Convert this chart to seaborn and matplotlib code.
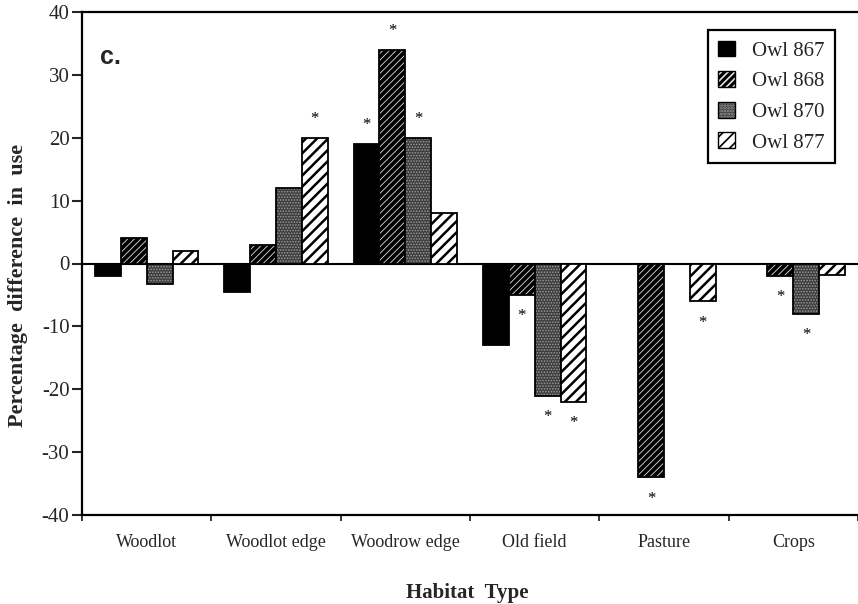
import matplotlib
matplotlib.use("Agg")
import matplotlib.pyplot as plt
import matplotlib.colors as mcolors
from matplotlib.patches import Patch
import seaborn as sns
import pandas as pd

# ---- data ----
habitats = ["Woodlot", "Woodlot edge", "Woodrow edge", "Old field", "Pasture", "Crops"]
owls = ["Owl 867", "Owl 868", "Owl 870", "Owl 877"]
owl_867 = [-2, -4.5, 19, -13, 0, 0]
owl_868 = [4, 3, 34, -5, -34, -2]
owl_870 = [-3.3, 12, 20, -21, 0, -8]
owl_877 = [2, 20, 8, -22, -6, -1.8]
# significance markers (asterisks)
sig_867 = [0, 0, 1, 0, 0, 0]
sig_868 = [0, 0, 1, 1, 1, 1]
sig_870 = [0, 0, 1, 1, 0, 1]
sig_877 = [0, 1, 0, 1, 1, 0]
y_ticks = [-40, -30, -20, -10, 0, 10, 20, 30, 40]

values = [owl_867, owl_868, owl_870, owl_877]
sigs = [sig_867, sig_868, sig_870, sig_877]

rows = []
for owl, vals in zip(owls, values):
    for h, v in zip(habitats, vals):
        rows.append({"habitat": h, "owl": owl, "value": v})
df = pd.DataFrame(rows)

sns.set_style("ticks")
plt.rcParams["font.family"] = ["Liberation Serif", "DejaVu Serif"]
plt.rcParams["axes.unicode_minus"] = False
plt.rcParams["hatch.linewidth"] = 1.2

fig = plt.figure(figsize=(8.58, 6.04), dpi=100)
ax = fig.add_axes([82 / 858, 1 - 515 / 604, (858 - 82) / 858, (515 - 12) / 604])

styles = [
    dict(face="black", hatch=None, hcolor="black", hlw=1.0),
    dict(face="black", hatch="/////", hcolor="#e0e0e0", hlw=0.6),
    dict(face="#3c3c3c", hatch="......", hcolor="#9a9a9a", hlw=0.8),
    dict(face="white", hatch="///", hcolor="black", hlw=1.8),
]

sns.barplot(data=df, x="habitat", y="value", hue="owl", order=habitats,
            hue_order=owls, palette=[s["face"] for s in styles],
            edgecolor="black", linewidth=1.3, errorbar=None, legend=False,
            saturation=1, ax=ax)


def style_patch(p, s):
    p.set_facecolor(s["face"])
    p.set_edgecolor("black")
    if s["hatch"]:
        p.set_hatch(s["hatch"])
        if hasattr(p, "set_hatchcolor"):
            p.set_hatchcolor(s["hcolor"])
        else:
            p._hatch_color = mcolors.to_rgba(s["hcolor"])
        if hasattr(p, "set_hatch_linewidth"):
            p.set_hatch_linewidth(s["hlw"])


for cont, s, sg in zip(ax.containers, styles, sigs):
    for bar, flag in zip(cont, sg):
        style_patch(bar, s)
        if flag:
            h = bar.get_height()
            cx = bar.get_x() + bar.get_width() / 2
            yy = h + 3.0 if h >= 0 else h - 3.4
            ax.text(cx, yy, "*", ha="center", va="center", fontsize=12,
                    color="black")

ax.axhline(0, color="black", lw=1.5, zorder=0.5)

ax.set_xlim(-0.5, 5.5)
ax.set_ylim(-40, 40)
ax.set_yticks(y_ticks)
ax.set_yticklabels([str(v) for v in y_ticks])
ax.set_xticks(range(len(habitats)))
ax.set_xticklabels(habitats)
ax.set_xticks([i - 0.5 for i in range(len(habitats) + 1)], minor=True)
ax.tick_params(axis="x", which="major", length=0, pad=14, labelsize=13)
ax.tick_params(axis="x", which="minor", length=4, width=1.3, direction="out")
ax.tick_params(axis="y", which="major", length=7, width=1.5, direction="out",
               pad=2, labelsize=15)

for side in ["left", "bottom", "top"]:
    ax.spines[side].set_visible(True)
    ax.spines[side].set_linewidth(1.6)
    ax.spines[side].set_color("black")
ax.spines["right"].set_visible(False)

ax.set_xlabel("Habitat  Type", fontsize=15, fontweight="bold")
ax.xaxis.set_label_coords(0.497, -0.135)
ax.set_ylabel("Percentage  difference  in  use", fontsize=16, fontweight="bold")
ax.yaxis.set_label_coords(-0.083, 0.457)
ax.yaxis.label.set_va("center")

ax.text(0.023, 0.91, "c.", transform=ax.transAxes, fontsize=18,
        fontweight="bold", family=["Liberation Sans", "DejaVu Sans"],
        ha="left", va="center")

handles = []
for owl, s in zip(owls, styles):
    p = Patch(facecolor=s["face"], edgecolor="black", label=owl, linewidth=1.0)
    style_patch(p, s)
    handles.append(p)
leg = ax.legend(handles=handles, loc="upper right", bbox_to_anchor=(0.970, 0.964),
                fontsize=15, frameon=True, fancybox=False, edgecolor="black",
                handlelength=0.8, handleheight=0.8, handletextpad=0.8,
                labelspacing=0.5, borderpad=0.5, borderaxespad=0)
leg.get_frame().set_linewidth(1.6)
leg.get_frame().set_alpha(1)

fig.savefig("out.png", dpi=100)
